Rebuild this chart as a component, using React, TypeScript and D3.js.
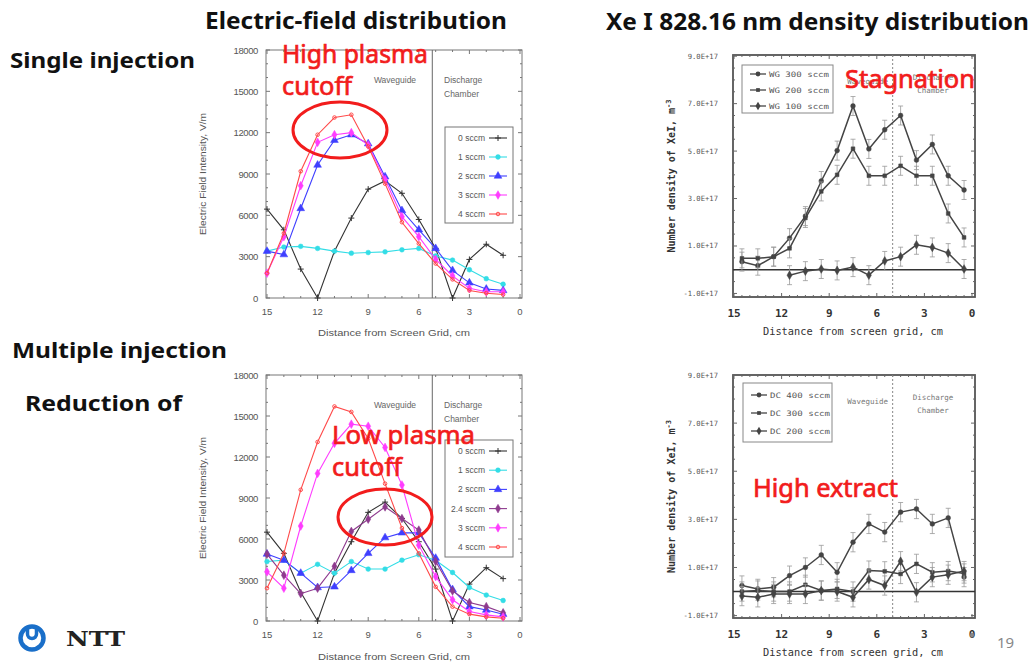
import React from 'react';
import * as d3 from 'd3';

// ---------- Data ----------
const xE = [15, 14, 13, 12, 11, 10, 9, 8, 7, 6, 5, 4, 3, 2, 1];
const single0 = [6450, 4950, 2100, 0, 3400, 5800, 7900, 8500, 7600, 5700, 3600, 0, 2800, 3900, 3100];
const single1 = [3400, 3700, 3750, 3600, 3400, 3250, 3300, 3350, 3500, 3600, 3050, 2750, 2050, 1400, 1000];
const single2 = [3400, 3150, 6500, 9650, 11450, 11850, 11200, 8800, 6350, 4950, 3600, 2000, 1100, 650, 550];
const single3 = [1800, 4450, 8150, 11300, 11850, 12000, 11100, 8600, 5900, 4450, 2800, 1600, 700, 450, 450];
const single4 = [1800, 4700, 9200, 11850, 13100, 13300, 11000, 8300, 5500, 3950, 2500, 1350, 550, 350, 250];

const multi0 = [6500, 4950, 2100, 0, 3500, 5800, 7950, 8700, 7500, 5800, 3800, 0, 2700, 3900, 3100];
const multi1 = [4350, 4450, 3500, 4150, 3500, 4350, 3800, 3800, 4450, 4850, 4450, 3550, 2450, 1900, 1500];
const multi2 = [4900, 4450, 3500, 2450, 2500, 3700, 4950, 6100, 6450, 6450, 4600, 2300, 1050, 800, 500];
const multi24 = [4900, 3350, 2000, 2400, 4000, 6550, 7450, 8350, 7500, 6650, 4350, 2200, 1350, 1050, 600];
const multi3 = [3600, 2400, 6950, 10800, 13000, 14400, 14250, 12700, 9950, 5550, 3250, 1550, 700, 450, 300];
const multi4 = [2400, 4950, 9600, 13100, 15700, 15300, 13350, 10050, 6800, 4950, 2500, 1050, 500, 300, 200];

const eTicks = [0, 3000, 6000, 9000, 12000, 15000, 18000];
const xTicks = [15, 12, 9, 6, 3, 0];

const xN = [14.5, 13.5, 12.5, 11.5, 10.5, 9.5, 8.5, 7.5, 6.5, 5.5, 4.5, 3.5, 2.5, 1.5, 0.5];
const wg300 = [0.34, 0.17, 0.55, 1.33, 2.26, 3.74, 5.02, 6.9, 5.09, 5.9, 6.5, 4.62, 5.28, 3.96, 3.36];
const wg200 = [0.48, 0.48, 0.55, 0.9, 2.18, 3.3, 4.0, 5.1, 3.96, 3.96, 4.38, 3.96, 3.96, 2.37, 1.36];
const wg100 = [null, null, null, -0.23, -0.06, 0.03, -0.03, 0.11, -0.23, 0.37, 0.55, 1.05, 0.94, 0.7, 0.03];
const dc400 = [0.25, 0.11, 0.18, 0.66, 1.0, 1.52, 0.8, 2.05, 2.81, 2.47, 3.3, 3.43, 2.81, 3.06, 0.6];
const dc300 = [0.0, 0.04, 0.0, 0.0, 0.28, 0.04, 0.11, 0.0, 0.87, 0.84, 0.73, 1.15, 0.8, 0.85, 0.75];
const dc200 = [-0.19, -0.24, -0.1, -0.1, -0.1, 0.04, 0.0, -0.24, 0.5, 0.25, 1.26, -0.03, 0.6, 0.7, 0.85];
const errN = 0.4;
const nTicks = [-1, 1, 3, 5, 7, 9];

// ---------- helpers ----------
function markerPath(kind: string): string {
  switch (kind) {
    case 'plus': return 'M-3,0H3M0,-3V3';
    case 'circle': return d3.symbol().type(d3.symbolCircle).size(18)() as string;
    case 'triangle': return d3.symbol().type(d3.symbolTriangle).size(26)() as string;
    case 'diamond': return d3.symbol().type(d3.symbolDiamond).size(22)() as string;
    case 'square': return d3.symbol().type(d3.symbolSquare).size(14)() as string;
    case 'ring': return d3.symbol().type(d3.symbolCircle).size(10)() as string;
    default: return d3.symbol().type(d3.symbolCircle).size(16)() as string;
  }
}
const hollow = (k: string) => k === 'plus' || k === 'ring';

type ESeries = { name: string; values: number[]; color: string; marker: string };

function EFieldChart({ t, b, series, legendTop, legendStep, legendBottom, xTitleY }: any) {
  const L = 266, R = 522;
  const x = d3.scaleLinear().domain([15, 0]).range([267, 520]);
  const y = d3.scaleLinear().domain([0, 18000]).range([b, t]);
  const line = d3.line<[number, number]>().x(d => x(d[0])).y(d => y(d[1]));
  const minorY = d3.range(0, 18001, 1000);
  const minorX = d3.range(0, 16, 1);
  const dx = x(5.2);
  return (
    <g>
      <rect x={L} y={t} width={R - L} height={b - t} fill="#fff" stroke="#777" strokeWidth={1} />
      {minorY.map(v => {
        const len = v % 3000 === 0 ? 4 : 2;
        return (
          <g key={'y' + v} stroke="#777">
            <line x1={L} x2={L + len} y1={y(v)} y2={y(v)} />
            <line x1={R} x2={R - len} y1={y(v)} y2={y(v)} />
          </g>
        );
      })}
      {minorX.map(v => {
        const len = v % 3 === 0 ? 4 : 2;
        return (
          <g key={'x' + v} stroke="#777">
            <line x1={x(v)} x2={x(v)} y1={b} y2={b - len} />
            <line x1={x(v)} x2={x(v)} y1={t} y2={t + len} />
          </g>
        );
      })}
      {eTicks.map(v => (
        <text key={'yl' + v} x={258} y={y(v) + 3.5} textAnchor="end" fontSize={9.5} fill="#555" letterSpacing={-0.4}>{v}</text>
      ))}
      {xTicks.map(v => (
        <text key={'xl' + v} x={x(v)} y={b + 17} textAnchor="middle" fontSize={9.5} fill="#555">{v}</text>
      ))}
      <text x={(L + R) / 2} y={xTitleY} textAnchor="middle" fontSize={9.5} fill="#555" textLength={152} lengthAdjust="spacingAndGlyphs">Distance from Screen Grid, cm</text>
      <text transform={`translate(206,${(t + b) / 2}) rotate(-90)`} textAnchor="middle" fontSize={8.5} fill="#555" textLength={122} lengthAdjust="spacingAndGlyphs">Electric Field Intensity, V/m</text>
      <line x1={dx} x2={dx} y1={t} y2={b} stroke="#666" strokeWidth={1} />
      <text x={395} y={t + 33} textAnchor="middle" fontSize={8.5} fill="#666">Waveguide</text>
      <text x={444} y={t + 33} fontSize={8.5} fill="#666">Discharge</text>
      <text x={444} y={t + 47} fontSize={8.5} fill="#666">Chamber</text>
      {series.map((s: ESeries) => {
        const pts = xE.map((xv, i) => [xv, s.values[i]] as [number, number]);
        return (
          <g key={s.name}>
            <path d={line(pts) || ''} fill="none" stroke={s.color} strokeWidth={1.1} />
            {pts.map((p, i) => (
              <path key={i} d={markerPath(s.marker)} transform={`translate(${x(p[0])},${y(p[1])})`}
                fill={hollow(s.marker) ? 'none' : s.color} stroke={s.color} strokeWidth={hollow(s.marker) ? 1 : 0.5} />
            ))}
          </g>
        );
      })}
      <rect x={445} y={legendTop} width={68} height={legendBottom - legendTop} fill="#fff" stroke="#777" />
      {series.map((s: ESeries, i: number) => {
        const ly = legendTop + 11 + i * legendStep;
        return (
          <g key={'lg' + s.name}>
            <text x={485} y={ly + 3} textAnchor="end" fontSize={8.5} fill="#555">{s.name}</text>
            <line x1={489} x2={507} y1={ly} y2={ly} stroke={s.color} strokeWidth={1.1} />
            <path d={markerPath(s.marker)} transform={`translate(${498},${ly})`}
              fill={hollow(s.marker) ? 'none' : s.color} stroke={s.color} strokeWidth={hollow(s.marker) ? 1 : 0.5} />
          </g>
        );
      })}
    </g>
  );
}

type NSeries = { name: string; values: (number | null)[]; marker: string };

function DensityChart({ t, b, yDomain, series, legend, labelsY }: any) {
  const L = 733, R = 975;
  const x = d3.scaleLinear().domain([15, 0]).range([734, 972]);
  const y = d3.scaleLinear().domain(yDomain).range([b, t]);
  const line = d3.line<[number, number | null]>()
    .defined(d => d[1] !== null)
    .x(d => x(d[0])).y(d => y(d[1] as number));
  const minorY = d3.range(-1, 9.01, 0.5);
  const minorX = d3.range(0, 15.01, 0.5);
  const fmt = (v: number) => `${v.toFixed(1)}E+17`;
  return (
    <g fontFamily="'DejaVu Sans Mono', 'Liberation Mono', monospace">
      <rect x={L} y={t} width={R - L} height={b - t} fill="#fff" stroke="#555" strokeWidth={1.8} />
      {minorY.map(v => {
        const len = Math.abs(v % 2) === 1 ? 4 : 2;
        return (
          <g key={'y' + v} stroke="#666">
            <line x1={L} x2={L + len} y1={y(v)} y2={y(v)} />
            <line x1={R} x2={R - len} y1={y(v)} y2={y(v)} />
          </g>
        );
      })}
      {minorX.map(v => {
        const len = v % 3 === 0 ? 4 : 2;
        return (
          <g key={'x' + v} stroke="#666">
            <line x1={x(v)} x2={x(v)} y1={b} y2={b - len} />
            <line x1={x(v)} x2={x(v)} y1={t} y2={t + len} />
          </g>
        );
      })}
      {nTicks.map(v => (
        <text key={'yl' + v} x={718} y={y(v) + 2.5} textAnchor="end" fontSize={7.2} fill="#555">{fmt(v)}</text>
      ))}
      {xTicks.map(v => (
        <text key={'xl' + v} x={x(v)} y={b + 20} textAnchor="middle" fontSize={11} fontWeight="bold" fill="#333">{v}</text>
      ))}
      <text x={853} y={b + 38} textAnchor="middle" fontSize={10.5} fill="#333" textLength={180} lengthAdjust="spacingAndGlyphs">Distance from screen grid, cm</text>
      <text transform={`translate(675,${(t + b) / 2}) rotate(-90)`} textAnchor="middle" fontSize={10} fontWeight="bold" fill="#333">
        Number density of XeI, m<tspan fontSize={7} dy={-4}>-3</tspan>
      </text>
      <line x1={x(5)} x2={x(5)} y1={t} y2={b} stroke="#888" strokeDasharray="2,2" />
      <text x={888} y={labelsY} textAnchor="end" fontSize={7.5} fill="#777">Waveguide</text>
      <text x={933} y={labelsY - 4} textAnchor="middle" fontSize={7.5} fill="#777">Discharge</text>
      <text x={933} y={labelsY + 9} textAnchor="middle" fontSize={7.5} fill="#777">Chamber</text>
      <line x1={L} x2={R} y1={y(0)} y2={y(0)} stroke="#333" strokeWidth={1.5} />
      {series.map((s: NSeries) => {
        const pts = xN.map((xv, i) => [xv, s.values[i]] as [number, number | null]);
        return (
          <g key={s.name}>
            {pts.filter(p => p[1] !== null).map((p, i) => {
              const cx = x(p[0]);
              const y1 = y((p[1] as number) + errN), y2 = y((p[1] as number) - errN);
              return (
                <g key={'e' + i} stroke="#999" strokeWidth={0.8}>
                  <line x1={cx} x2={cx} y1={y1} y2={y2} />
                  <line x1={cx - 2.5} x2={cx + 2.5} y1={y1} y2={y1} />
                  <line x1={cx - 2.5} x2={cx + 2.5} y1={y2} y2={y2} />
                </g>
              );
            })}
            <path d={line(pts) || ''} fill="none" stroke="#444" strokeWidth={1.5} />
            {pts.filter(p => p[1] !== null).map((p, i) => (
              <path key={i} d={markerPath(s.marker)} transform={`translate(${x(p[0])},${y(p[1] as number)})`} fill="#444" stroke="#444" strokeWidth={0.5} />
            ))}
          </g>
        );
      })}
      <rect x={legend.x} y={legend.y} width={legend.w} height={legend.h} fill="#fff" stroke="#888" />
      {series.map((s: NSeries, i: number) => {
        const ly = legend.y + legend.first + i * legend.step;
        return (
          <g key={'lg' + s.name}>
            <line x1={legend.x + 8} x2={legend.x + 24} y1={ly} y2={ly} stroke="#444" strokeWidth={1.3} />
            <path d={markerPath(s.marker)} transform={`translate(${legend.x + 16},${ly})`} fill="#444" />
            <text x={legend.x + 27} y={ly + 2.5} fontSize={7.5} fill="#555" textLength={60} lengthAdjust="spacingAndGlyphs">{s.name}</text>
          </g>
        );
      })}
    </g>
  );
}

const RED = '#f21c1c';

export default function App() {
  const singleSeries: ESeries[] = [
    { name: '0 sccm', values: single0, color: '#333333', marker: 'plus' },
    { name: '1 sccm', values: single1, color: '#33dde6', marker: 'circle' },
    { name: '2 sccm', values: single2, color: '#3f3fff', marker: 'triangle' },
    { name: '3 sccm', values: single3, color: '#ff3cff', marker: 'diamond' },
    { name: '4 sccm', values: single4, color: '#ff4a4a', marker: 'ring' },
  ];
  const multiSeries: ESeries[] = [
    { name: '0 sccm', values: multi0, color: '#333333', marker: 'plus' },
    { name: '1 sccm', values: multi1, color: '#33dde6', marker: 'circle' },
    { name: '2 sccm', values: multi2, color: '#3f3fff', marker: 'triangle' },
    { name: '2.4 sccm', values: multi24, color: '#8e3a8e', marker: 'diamond' },
    { name: '3 sccm', values: multi3, color: '#ff3cff', marker: 'diamond' },
    { name: '4 sccm', values: multi4, color: '#ff4a4a', marker: 'ring' },
  ];
  const wgSeries: NSeries[] = [
    { name: 'WG 300 sccm', values: wg300, marker: 'circle' },
    { name: 'WG 200 sccm', values: wg200, marker: 'square' },
    { name: 'WG 100 sccm', values: wg100, marker: 'diamond' },
  ];
  const dcSeries: NSeries[] = [
    { name: 'DC 400 sccm', values: dc400, marker: 'circle' },
    { name: 'DC 300 sccm', values: dc300, marker: 'square' },
    { name: 'DC 200 sccm', values: dc200, marker: 'diamond' },
  ];
  const head = { fontFamily: "'Noto Sans', 'Open Sans', sans-serif", fontWeight: 700, fill: '#111' } as any;
  const red = { fontFamily: "'Noto Sans', 'Open Sans', sans-serif", fill: RED, stroke: RED, strokeWidth: 0.7 } as any;
  return (
    <svg width={1035} height={666} style={{ position: 'absolute', left: 0, top: 0, background: '#fff' }}
      fontFamily="'Liberation Sans', Arial, sans-serif">
      <rect x={0} y={0} width={1035} height={666} fill="#fff" />
      {/* headings */}
      <text x={205} y={29} fontSize={24} {...head} textLength={302} lengthAdjust="spacingAndGlyphs">Electric-field distribution</text>
      <text x={606} y={30} fontSize={24} {...head} textLength={423} lengthAdjust="spacingAndGlyphs">Xe I 828.16 nm density distribution</text>
      <text x={10} y={68} fontSize={22} {...head} textLength={185} lengthAdjust="spacingAndGlyphs">Single injection</text>
      <text x={12} y={358} fontSize={22} {...head} textLength={215} lengthAdjust="spacingAndGlyphs">Multiple injection</text>
      <text x={25} y={411} fontSize={22} {...head} textLength={157} lengthAdjust="spacingAndGlyphs">Reduction of</text>

      <EFieldChart t={50} b={298} series={singleSeries} legendTop={127} legendStep={19} legendBottom={223} xTitleY={336} />
      <EFieldChart t={375} b={621} series={multiSeries} legendTop={440} legendStep={19.2} legendBottom={557} xTitleY={660} />

      <DensityChart t={55} b={297} yDomain={[-1.15, 9.05]} series={wgSeries} labelsY={84}
        legend={{ x: 742, y: 65, w: 91, h: 48, first: 9, step: 16 }} />
      <DensityChart t={375} b={618} yDomain={[-1.1, 9.0]} series={dcSeries} labelsY={404}
        legend={{ x: 743, y: 383, w: 89, h: 59, first: 12, step: 18 }} />

      {/* annotations */}
      <ellipse cx={340} cy={130} rx={47} ry={28} fill="none" stroke={RED} strokeWidth={3} />
      <ellipse cx={385} cy={517} rx={47} ry={28} fill="none" stroke={RED} strokeWidth={3} />
      <text x={282} y={63} fontSize={26} {...red} textLength={146} lengthAdjust="spacingAndGlyphs">High plasma</text>
      <text x={282} y={95} fontSize={26} {...red} textLength={70} lengthAdjust="spacingAndGlyphs">cutoff</text>
      <text x={332} y={444} fontSize={26} {...red} textLength={143} lengthAdjust="spacingAndGlyphs">Low plasma</text>
      <text x={332} y={476} fontSize={26} {...red} textLength={70} lengthAdjust="spacingAndGlyphs">cutoff</text>
      <text x={845} y={88} fontSize={25} {...red} textLength={130} lengthAdjust="spacingAndGlyphs">Stagnation</text>
      <text x={753} y={497} fontSize={25} {...red} textLength={145} lengthAdjust="spacingAndGlyphs">High extract</text>

      {/* NTT logo */}
      <g stroke="#1a6fc9" fill="none">
        <circle cx={32} cy={638} r={11.5} strokeWidth={4.5} />
        <path d="M27.5,626 V634 A4.5,4.5 0 0 0 36.5,634 V626" strokeWidth={3.5} />
      </g>
      <text x={66} y={646} fontSize={20} fontWeight="bold" fontFamily="'DejaVu Serif', 'Liberation Serif', serif" fill="#222" textLength={59} lengthAdjust="spacingAndGlyphs">NTT</text>
      <ellipse cx={972} cy={635} rx={2} ry={2.5} fill="#888" />
      <text x={997} y={648} fontSize={15} fill="#888" fontFamily="'Noto Sans', sans-serif">19</text>
    </svg>
  );
}
